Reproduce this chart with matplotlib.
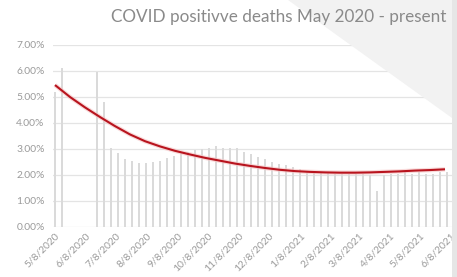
import matplotlib
matplotlib.use('Agg')
import matplotlib.pyplot as plt
from matplotlib.patches import Polygon, Rectangle
import pandas as pd
import numpy as np

title = 'COVID positivve deaths May 2020 - present'

# weekly death share (%)
bar_dates = pd.date_range('2020-05-08', periods=57, freq='7D')
bar_values = [5.2, 6.1, 0, 0, 0, 0, 5.95, 4.8, 3.05, 2.85,
              2.6, 2.55, 2.45, 2.45, 2.5, 2.55, 2.65, 2.75, 2.85, 2.9,
              2.95, 3.0, 3.05, 3.1, 3.05, 3.05, 3.05, 2.9, 2.8, 2.7,
              2.6, 2.5, 2.42, 2.38, 2.3, 2.22, 2.15, 2.1, 2.1, 2.1,
              2.05, 2.05, 2.05, 2.05, 2.05, 2.0, 1.4, 2.0, 2.05, 2.05,
              2.1, 2.05, 2.1, 2.05, 2.05, 2.1, 2.1]

# trend line (%), read every 15 days
trend_dates = pd.date_range('2020-05-08', periods=27, freq='15D')
trend_values = [5.46, 5.0, 4.6, 4.23, 3.88, 3.56, 3.3, 3.1, 2.93, 2.79,
                2.66, 2.55, 2.44, 2.35, 2.27, 2.2, 2.15, 2.12, 2.10, 2.09,
                2.09, 2.10, 2.12, 2.14, 2.17, 2.19, 2.22]

tick_dates = pd.date_range('2020-05-08', periods=14, freq=pd.DateOffset(months=1))
tick_labels = [f'{d.month}/{d.day}/{d.year}' for d in tick_dates]

plt.rcParams['font.family'] = ['Lato', 'DejaVu Sans']

fig = plt.figure(figsize=(4.57, 2.77), dpi=100)
fig.patch.set_facecolor('white')

# decorative background: grey triangle and right strip
fig.patches.append(Polygon([(288 / 457, 1), (452 / 457, 1), (452 / 457, 1 - 118 / 277)],
                           closed=True, transform=fig.transFigure,
                           facecolor='#f2f2f2', edgecolor='none', zorder=0))
fig.patches.append(Rectangle((452 / 457, 0), 5 / 457, 1, transform=fig.transFigure,
                             facecolor='#e6e6e6', edgecolor='none', zorder=0))

ax = fig.add_axes([53 / 457, 50 / 277, 399 / 457, 182 / 277])
ax.patch.set_alpha(0)

ax.bar(bar_dates, bar_values, width=1.5, color='#dadada', zorder=2)
ax.plot(trend_dates, trend_values, color='#f6c4c4', linewidth=3.2, alpha=0.6, zorder=3,
        solid_capstyle='butt')
ax.plot(trend_dates, trend_values, color='#b8141e', linewidth=1.5, zorder=4,
        solid_capstyle='butt')

start = pd.Timestamp('2020-05-08')
ax.set_xlim(start - pd.Timedelta(days=2), start + pd.Timedelta(days=397))
ax.set_ylim(0, 7)
ax.set_yticks(np.arange(0, 8, 1))
ax.set_yticklabels([f'{v:.2f}%' for v in range(8)])
ax.set_xticks(tick_dates)
ax.set_xticklabels(tick_labels, rotation=45, ha='right', va='top', rotation_mode='anchor')

ax.grid(axis='y', color='#e4e4e4', linewidth=0.9, zorder=0)
ax.set_axisbelow(True)
for s in ax.spines.values():
    s.set_visible(False)
ax.tick_params(axis='both', length=0, colors='#9a9a9a')
ax.tick_params(axis='y', labelsize=7.4, pad=6)
ax.tick_params(axis='x', labelsize=7.4, pad=3)
for lbl in ax.get_xticklabels():
    lbl.set_x(lbl.get_position()[0])

fig.text(279 / 457, 1 - 17 / 277, title, ha='center', va='center',
         fontsize=12.3, color='#8a8a8a')

fig.savefig('out.png', dpi=100)
